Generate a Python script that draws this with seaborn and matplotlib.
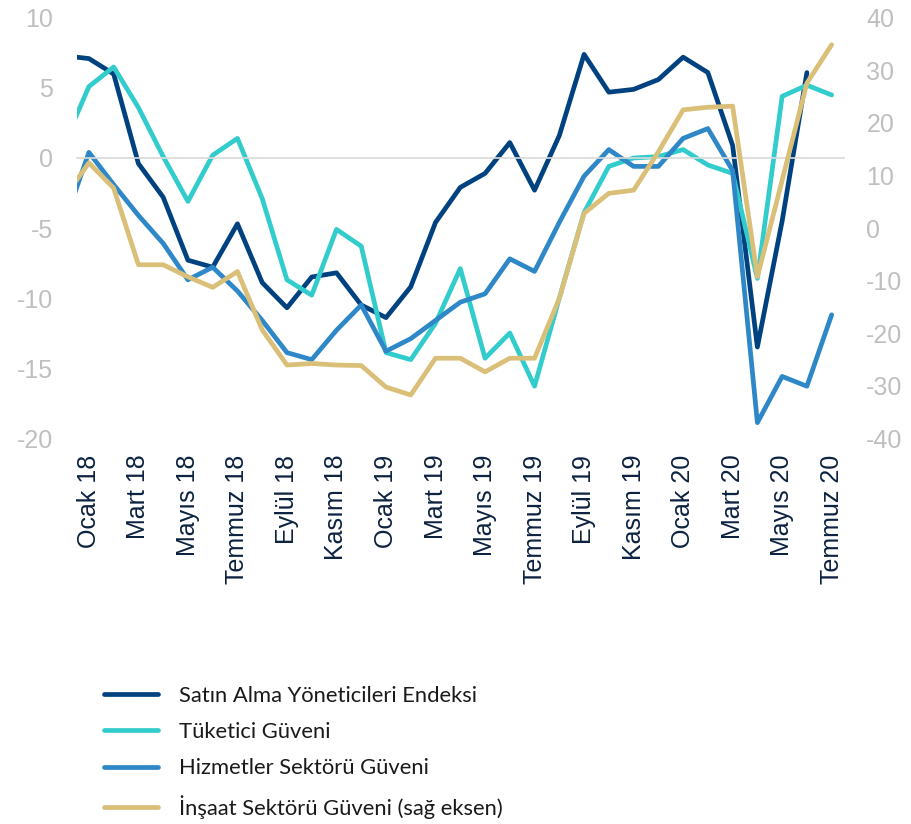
import numpy as np
import pandas as pd
import matplotlib.pyplot as plt
import seaborn as sns

# DATA (first value is Aralik 17, which falls just outside the left edge)
aylar = ['Ocak', 'Şubat', 'Mart', 'Nisan', 'Mayıs', 'Haziran',
         'Temmuz', 'Ağustos', 'Eylül', 'Ekim', 'Kasım', 'Aralık']
donem = ['Aralık 17'] + [a + ' ' + y for y in ['18', '19'] for a in aylar] + \
        [a + ' 20' for a in aylar[:7]]

satin_alma = [7.3, 7.1, 6.0, -0.4, -2.8, -7.3, -7.8, -4.7, -8.9, -10.7, -8.5, -8.2, -10.5,
              -11.4, -9.2, -4.6, -2.1, -1.1, 1.1, -2.3, 1.6, 7.4, 4.7, 4.9, 5.6,
              7.2, 6.1, 0.9, -13.5, -4.5, 6.1, np.nan]
tuketici = [1.0, 5.1, 6.5, 3.6, 0.1, -3.1, 0.2, 1.4, -2.9, -8.7, -9.8, -5.1, -6.3,
            -13.9, -14.4, -11.8, -7.9, -14.3, -12.5, -16.3, -10.0, -3.9, -0.6, 0.0, 0.1,
            0.6, -0.5, -1.1, -8.6, 4.4, 5.2, 4.5]
hizmetler = [-4.7, 0.4, -1.9, -4.1, -6.1, -8.7, -7.8, -9.5, -11.6, -13.9, -14.4, -12.3, -10.5,
             -13.8, -12.9, -11.6, -10.3, -9.7, -7.2, -8.1, -4.6, -1.3, 0.6, -0.6, -0.6,
             1.4, 2.1, -0.9, -18.9, -15.6, -16.3, -11.2]
insaat = [5.8, 12.4, 7.6, -7.0, -7.0, -9.3, -11.3, -8.3, -19.4, -26.1, -25.8, -26.1, -26.2,
          -30.3, -31.8, -24.8, -24.8, -27.4, -24.8, -24.8, -13.4, 2.8, 6.6, 7.2, 14.5,
          22.5, 23.0, 23.2, -9.3, 9.1, 27.6, 34.9]

etiketler = ['Satın Alma Yöneticileri Endeksi', 'Tüketici Güveni',
             'Hizmetler Sektörü Güveni', 'İnşaat Sektörü Güveni (sağ eksen)']
renkler = ['#00427f', '#33cccc', '#2e88c8', '#d9bf78']

df = pd.DataFrame({'x': np.arange(len(donem)) - 1, 'donem': donem,
                   'pmi': satin_alma, 'tuk': tuketici, 'hiz': hizmetler, 'ins': insaat})

sns.set_style('white')
plt.rcParams['font.family'] = ['Liberation Sans', 'DejaVu Sans']
plt.rcParams['axes.unicode_minus'] = False

fig = plt.figure(figsize=(9.11, 8.24), dpi=100)
ax = fig.add_axes([0.084, 0.4684, 0.8425, 0.5098])
ax2 = ax.twinx()

lw = 3.4
sns.lineplot(data=df, x='x', y='pmi', ax=ax, color=renkler[0], lw=lw, label=etiketler[0], legend=False)
sns.lineplot(data=df, x='x', y='tuk', ax=ax, color=renkler[1], lw=lw, label=etiketler[1], legend=False)
sns.lineplot(data=df, x='x', y='hiz', ax=ax, color=renkler[2], lw=lw, label=etiketler[2], legend=False)
sns.lineplot(data=df, x='x', y='ins', ax=ax2, color=renkler[3], lw=lw, label=etiketler[3], legend=False)

ax.set_xlim(-0.5, 30.5)
ax.set_ylim(-20, 10)
ax2.set_ylim(-40, 40)
ax.set_yticks(np.arange(-20, 11, 5))
ax2.set_yticks(np.arange(-40, 41, 10))
ax.set_xlabel('')
ax.set_ylabel('')
ax2.set_ylabel('')

gri = '#bfbfbf'
ax.tick_params(axis='y', length=0, labelsize=18, labelcolor=gri, pad=17)
ax2.tick_params(axis='y', length=0, labelsize=18, labelcolor=gri, pad=16)

for a in [ax, ax2]:
    for s in ['top', 'left', 'right', 'bottom']:
        a.spines[s].set_visible(False)

# zero line with small ticks between every two months
ax.spines['bottom'].set_visible(True)
ax.spines['bottom'].set_position(('data', 0))
ax.spines['bottom'].set_color('#d9d9d9')
ax.spines['bottom'].set_linewidth(1.2)
ax.set_xticks(np.arange(-0.5, 30.6, 2))
ax.tick_params(axis='x', length=5, width=1.2, color='#d9d9d9', labelbottom=False, direction='out')

# month labels at the bottom of the plot area
sec = ax.secondary_xaxis('bottom')
sec.set_xticks(df['x'][1::2], df['donem'][1::2], rotation=90)
sec.tick_params(length=0, labelsize=18, labelcolor='#0d2240', pad=12)
sec.spines['bottom'].set_visible(False)

h1, l1 = ax.get_legend_handles_labels()
h2, l2 = ax2.get_legend_handles_labels()
fig.legend(h1 + h2, l1 + l2, loc='upper left', bbox_to_anchor=(0.092, 0.192),
           frameon=False, prop={'family': 'Lato', 'size': 15.8}, handlelength=2.5,
           handletextpad=0.95, labelspacing=0.75, labelcolor='#1a1a1a')

plt.savefig('out.png', dpi=100)
